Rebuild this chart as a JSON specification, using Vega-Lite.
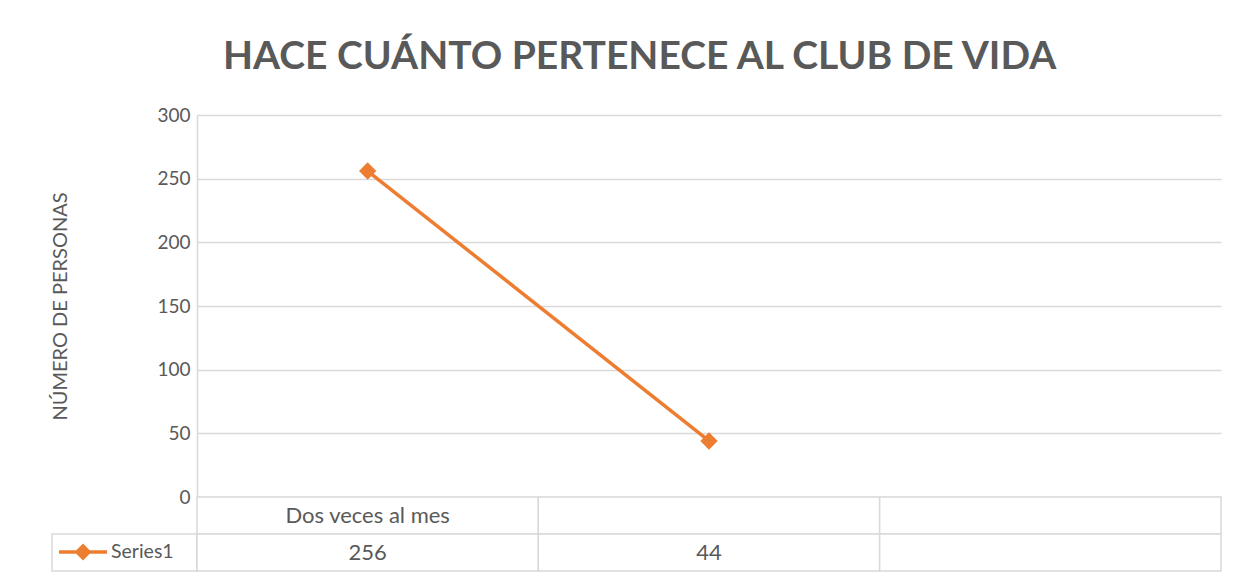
{
  "$schema": "https://vega.github.io/schema/vega-lite/v6.json",
  "autosize": {"type": "pad"},
  "padding": {"left": 50, "top": 38, "right": 10, "bottom": 5},
  "background": "white",
  "title": {
    "text": "HACE CUÁNTO PERTENECE AL CLUB DE VIDA",
    "font": "Lato",
    "fontSize": 39,
    "fontWeight": "bold",
    "color": "#595959",
    "anchor": "start",
    "frame": "group",
    "dx": 171,
    "offset": 29
  },
  "datasets": {
    "d": [
      {"key": "c1", "label": "Dos veces al mes", "value": 256},
      {"key": "c2", "label": "", "value": 44},
      {"key": "c3", "label": "", "value": null}
    ]
  },
  "columns": 2,
  "spacing": 0,
  "bounds": "flush",
  "align": "each",
  "resolve": {"scale": {"x": "independent", "y": "independent"}, "legend": {"color": "independent"}},
  "concat": [
    {"width": 145, "height": 382, "data": {"values": []}, "mark": "point"},
    {
      "width": 1024,
      "height": 382,
      "data": {"name": "d"},
      "transform": [{"filter": "isValid(datum.value)"}],
      "encoding": {
        "x": {
          "field": "key",
          "type": "nominal",
          "scale": {"type": "point", "domain": ["c1", "c2", "c3"], "padding": 0.5},
          "axis": null
        },
        "y": {
          "field": "value",
          "type": "quantitative",
          "scale": {"domain": [0, 300], "nice": false},
          "axis": {
            "values": [0, 50, 100, 150, 200, 250, 300],
            "grid": true,
            "gridColor": "#d9d9d9",
            "gridWidth": 1.5,
            "domain": true,
            "domainColor": "#d9d9d9",
            "domainWidth": 1.5,
            "ticks": false,
            "labelFont": "Lato",
            "labelFontSize": 19,
            "labelColor": "#595959",
            "labelPadding": 7,
            "title": "NÚMERO DE PERSONAS",
            "titleFont": "Lato",
            "titleFontSize": 20,
            "titleFontWeight": "normal",
            "titleColor": "#595959",
            "titlePadding": 86
          }
        }
      },
      "layer": [
        {
          "mark": {"type": "line", "strokeWidth": 3.5},
          "encoding": {
            "color": {
              "datum": "Series1",
              "type": "nominal",
              "scale": {"range": ["#ED7D31"]},
              "legend": {
                "orient": "none",
                "legendX": -128,
                "legendY": 423,
                "title": null,
                "padding": 0,
                "labelFont": "Lato",
                "labelFontSize": 19.5,
                "labelColor": "#595959",
                "labelOffset": 14,
                "symbolOffset": 0,
                "symbolSize": 576,
                "symbolStrokeWidth": 3.5,
                "encode": {
                  "symbols": {
                    "update": {
                      "fill": {"value": "#ED7D31"},
                      "stroke": {"value": "#ED7D31"},
                      "strokeWidth": {"value": 3.5},
                      "shape": {"value": "M-2,0H2M0,-0.5L0.5,0L0,0.5L-0.5,0Z"},
                      "size": {"value": 576},
                      "opacity": {"value": 1}
                    }
                  }
                }
              }
            }
          }
        },
        {
          "mark": {"type": "point", "shape": "diamond", "filled": true, "color": "#ED7D31", "size": 300, "opacity": 1}
        }
      ]
    },
    {
      "width": 145,
      "height": 74,
      "data": {"values": [{"series": "Series1"}]},
      "mark": {"type": "rect", "filled": false, "stroke": "#d9d9d9", "strokeWidth": 1.5},
      "encoding": {
        "y": {"field": "series", "type": "nominal", "scale": {"domain": ["cat", "Series1"], "paddingInner": 0, "paddingOuter": 0}, "axis": null}
      }
    },
    {
      "width": 1024,
      "height": 74,
      "data": {"name": "d"},
      "encoding": {
        "x": {
          "field": "key",
          "type": "nominal",
          "scale": {"type": "band", "domain": ["c1", "c2", "c3"], "paddingInner": 0, "paddingOuter": 0},
          "axis": null
        }
      },
      "layer": [
        {
          "mark": {"type": "rect", "fill": "white", "stroke": "#d9d9d9", "strokeWidth": 1.5},
          "encoding": {
            "y": {"datum": "cat", "type": "nominal", "scale": {"domain": ["cat", "Series1"], "paddingInner": 0, "paddingOuter": 0}, "axis": null}
          }
        },
        {
          "mark": {"type": "rect", "fill": "white", "stroke": "#d9d9d9", "strokeWidth": 1.5},
          "encoding": {"y": {"datum": "Series1", "type": "nominal"}}
        },
        {
          "mark": {"type": "text", "font": "Lato", "fontSize": 22, "color": "#595959"},
          "encoding": {"y": {"datum": "cat", "type": "nominal"}, "text": {"field": "label", "type": "nominal"}}
        },
        {
          "transform": [{"filter": "isValid(datum.value)"}],
          "mark": {"type": "text", "font": "Lato", "fontSize": 22, "color": "#595959"},
          "encoding": {"y": {"datum": "Series1", "type": "nominal"}, "text": {"field": "value", "type": "quantitative", "format": "d"}}
        }
      ]
    }
  ],
  "config": {"view": {"stroke": null}}
}
